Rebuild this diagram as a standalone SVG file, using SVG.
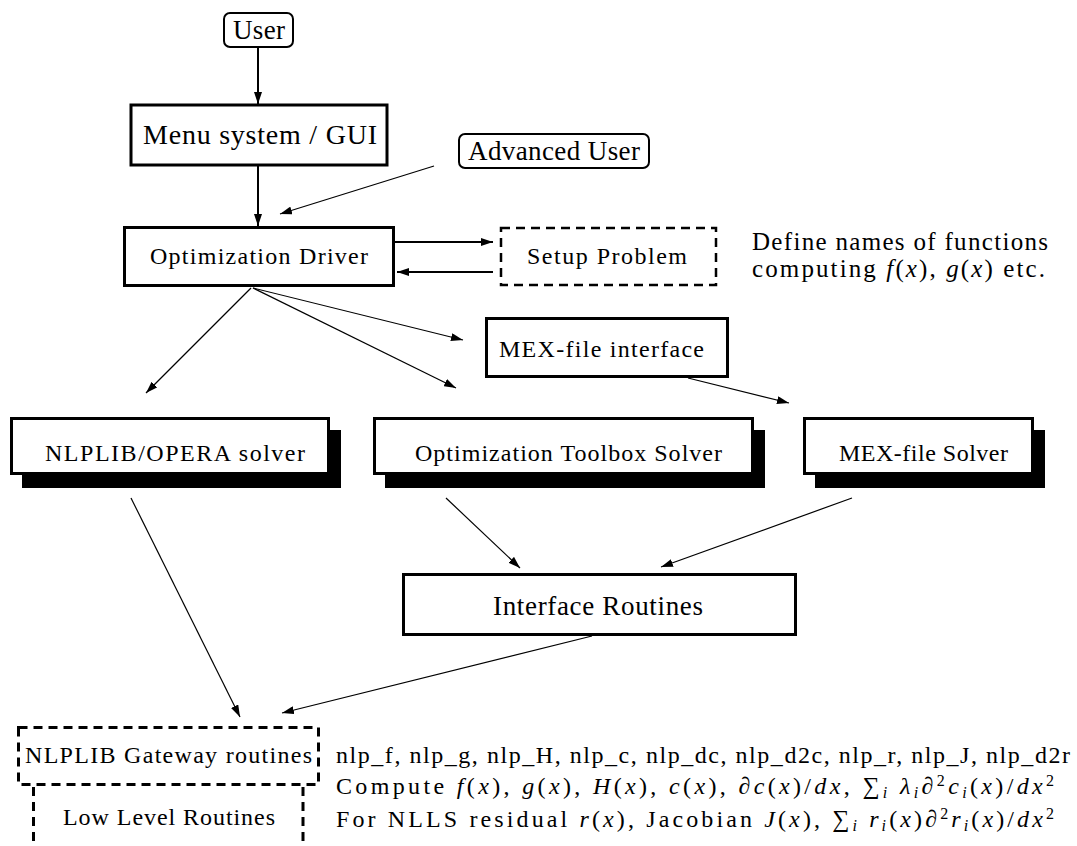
<svg xmlns="http://www.w3.org/2000/svg" width="1077" height="846" viewBox="0 0 1077 846">
<defs>
<marker id="ah" viewBox="0 0 12 8" refX="12" refY="4" markerWidth="12" markerHeight="8" markerUnits="userSpaceOnUse" orient="auto"><path d="M0,0 L12,4 L0,8 z" fill="#000"/></marker>
</defs>
<style>
text { font-family: "Liberation Serif", "DejaVu Serif", serif; fill:#000; }
.box { fill:#fff; stroke:#000; stroke-width:3; }
.rbox { fill:#fff; stroke:#000; stroke-width:2; }
.dash { fill:none; stroke:#000; stroke-width:2.5; stroke-dasharray:9 6; }
.shadow { fill:#000; }
.c { stroke:#000; fill:none; marker-end:url(#ah); }
.thick { stroke-width:2; }
.thin { stroke-width:1.2; }
.m { font-style:italic; }
.s { font-size:16px; }
</style>
<rect width="1077" height="846" fill="#fff"/>

<g id="connectors">
<line class="c thick" x1="258" y1="48" x2="258" y2="104"/>
<line class="c thick" x1="258" y1="166" x2="258" y2="226"/>
<line class="c thin" x1="434" y1="166" x2="280" y2="214"/>
<line class="c thick" x1="395" y1="242" x2="493" y2="242"/>
<line class="c thick" x1="493" y1="272" x2="397" y2="272"/>
<line class="c thin" x1="251" y1="288" x2="146" y2="393"/>
<line class="c thin" x1="253" y1="288" x2="456" y2="388"/>
<line class="c thin" x1="253" y1="288" x2="463" y2="340"/>
<line class="c thin" x1="688" y1="378" x2="789" y2="403"/>
<line class="c thin" x1="446" y1="498" x2="520" y2="568"/>
<line class="c thin" x1="852" y1="498" x2="661" y2="567"/>
<line class="c thin" x1="131" y1="498" x2="240" y2="717"/>
<line class="c thin" x1="592" y1="636" x2="282" y2="713"/>
</g>

<g id="user">
<rect class="rbox" x="224" y="13" width="69" height="34" rx="6"/>
<text x="233" y="39" font-size="27" textLength="52">User</text>
</g>

<g id="menu">
<rect class="box" x="131" y="105" width="256" height="60"/>
<text x="143" y="144" font-size="28" textLength="234">Menu system / GUI</text>
</g>

<g id="advanced-user">
<rect class="rbox" x="459" y="134" width="190" height="34" rx="6"/>
<text x="468" y="160" font-size="27" textLength="172">Advanced User</text>
</g>

<g id="driver">
<rect class="box" x="124.5" y="227.5" width="269" height="58"/>
<text x="150" y="264" font-size="24" textLength="218">Optimization Driver</text>
</g>

<g id="setup">
<rect class="dash" x="501" y="228" width="215" height="57"/>
<text x="527" y="264" font-size="24" textLength="160">Setup Problem</text>
</g>

<g id="setup-note">
<text x="752" y="250" font-size="25" textLength="296">Define names of functions</text>
<text x="752" y="277" font-size="25" textLength="293">computing <tspan class="m">f</tspan>(<tspan class="m">x</tspan>), <tspan class="m">g</tspan>(<tspan class="m">x</tspan>) etc.</text>
</g>

<g id="mex-interface">
<rect class="box" x="486.5" y="318.5" width="241" height="58"/>
<text x="499" y="357" font-size="24" textLength="205">MEX-file interface</text>
</g>

<g id="nlplib-solver">
<rect class="shadow" x="22" y="430" width="319" height="58"/>
<rect class="box" x="11.5" y="418.5" width="317" height="55"/>
<text x="45" y="461" font-size="24" textLength="260">NLPLIB/OPERA solver</text>
</g>

<g id="toolbox-solver">
<rect class="shadow" x="385" y="430" width="380" height="58"/>
<rect class="box" x="374.5" y="418.5" width="378" height="55"/>
<text x="415" y="461" font-size="24" textLength="307">Optimization Toolbox Solver</text>
</g>

<g id="mex-solver">
<rect class="shadow" x="815" y="430" width="230" height="58"/>
<rect class="box" x="804.5" y="418.5" width="228" height="55"/>
<text x="839" y="461" font-size="24" textLength="169">MEX-file Solver</text>
</g>

<g id="interface">
<rect class="box" x="403.5" y="574.5" width="392" height="60"/>
<text x="493" y="615" font-size="27" textLength="210">Interface Routines</text>
</g>

<g id="gateway">
<rect class="dash" x="18.5" y="727.5" width="300" height="57" style="stroke-width:3"/>
<text x="25" y="763" font-size="24" textLength="287">NLPLIB Gateway routines</text>
</g>

<g id="low-level">
<line class="dash" x1="33.5" y1="787" x2="33.5" y2="846" style="stroke-width:3"/>
<line class="dash" x1="303" y1="787" x2="303" y2="846" style="stroke-width:3"/>
<text x="63" y="825" font-size="24" textLength="212">Low Level Routines</text>
</g>

<g id="gateway-notes">
<text x="336" y="763" font-size="24" textLength="734">nlp_f, nlp_g, nlp_H, nlp_c, nlp_dc, nlp_d2c, nlp_r, nlp_J, nlp_d2r</text>
<text x="336" y="794" font-size="24" textLength="718">Compute <tspan class="m">f</tspan>(<tspan class="m">x</tspan>), <tspan class="m">g</tspan>(<tspan class="m">x</tspan>), <tspan class="m">H</tspan>(<tspan class="m">x</tspan>), <tspan class="m">c</tspan>(<tspan class="m">x</tspan>), ∂<tspan class="m">c</tspan>(<tspan class="m">x</tspan>)/<tspan class="m">dx</tspan>, ∑<tspan class="s m" baseline-shift="-4">i</tspan> <tspan class="m">λ</tspan><tspan class="s m" baseline-shift="-4">i</tspan>∂<tspan class="s" baseline-shift="8">2</tspan><tspan class="m">c</tspan><tspan class="s m" baseline-shift="-4">i</tspan>(<tspan class="m">x</tspan>)/<tspan class="m">dx</tspan><tspan class="s" baseline-shift="8">2</tspan></text>
<text x="336" y="827" font-size="24" textLength="718">For NLLS residual <tspan class="m">r</tspan>(<tspan class="m">x</tspan>), Jacobian <tspan class="m">J</tspan>(<tspan class="m">x</tspan>), ∑<tspan class="s m" baseline-shift="-4">i</tspan> <tspan class="m">r</tspan><tspan class="s m" baseline-shift="-4">i</tspan>(<tspan class="m">x</tspan>)∂<tspan class="s" baseline-shift="8">2</tspan><tspan class="m">r</tspan><tspan class="s m" baseline-shift="-4">i</tspan>(<tspan class="m">x</tspan>)/<tspan class="m">dx</tspan><tspan class="s" baseline-shift="8">2</tspan></text>
</g>
</svg>
